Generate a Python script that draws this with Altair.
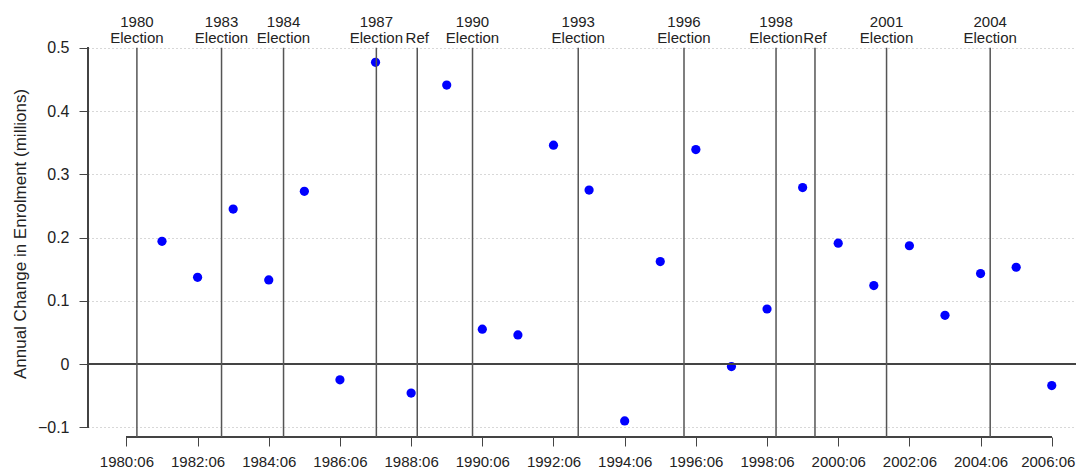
import altair as alt
import pandas as pd

# Annual change in enrolment (millions), measured at June of each year
YEARS = [1981.5, 1982.5, 1983.5, 1984.5, 1985.5, 1986.5, 1987.5, 1988.5, 1989.5,
         1990.5, 1991.5, 1992.5, 1993.5, 1994.5, 1995.5, 1996.5, 1997.5, 1998.5,
         1999.5, 2000.5, 2001.5, 2002.5, 2003.5, 2004.5, 2005.5, 2006.5]
CHANGE = [0.194, 0.137, 0.245, 0.133, 0.273, -0.025, 0.477, -0.046, 0.441,
          0.055, 0.046, 0.346, 0.275, -0.090, 0.162, 0.339, -0.004, 0.087,
          0.279, 0.191, 0.124, 0.187, 0.077, 0.143, 0.153, -0.034]

# Elections and referendums (decimal dates)
EVENT_DATES = [1980.795, 1983.173, 1984.915, 1987.523, 1988.672, 1990.225,
               1993.195, 1996.167, 1998.753, 1999.847, 2001.858, 2004.770]
EVENT_YEAR = ["1980", "1983", "1984", "1987", "", "1990",
              "1993", "1996", "1998", "", "2001", "2004"]
EVENT_KIND = ["Election", "Election", "Election", "Election", "Ref", "Election",
              "Election", "Election", "Election", "Ref", "Election", "Election"]

TICK_VALUES = [1980.5, 1982.5, 1984.5, 1986.5, 1988.5, 1990.5, 1992.5,
               1994.5, 1996.5, 1998.5, 2000.5, 2002.5, 2004.5, 2006.5]
Y_TICKS = [-0.1, 0, 0.1, 0.2, 0.3, 0.4, 0.5]

X_DOMAIN = [1979.421, 2007.181]
Y_DOMAIN = [-0.1154, 0.5123]
X_AXIS_SPAN = [1980.5, 2006.5]
Y_AXIS_SPAN = [-0.1, 0.5]

FONT = "Liberation Sans"
AXIS_COL = "#444444"
TXT_COL = "#222222"

pts = pd.DataFrame({"year": YEARS, "change": CHANGE})
ev = pd.DataFrame({"date": EVENT_DATES, "yr": EVENT_YEAR, "kind": EVENT_KIND})

x_scale = alt.Scale(domain=X_DOMAIN, nice=False, zero=False)
y_scale = alt.Scale(domain=Y_DOMAIN, nice=False, zero=False)

x_axis = alt.Axis(values=TICK_VALUES,
                  labelExpr="floor(datum.value) + ':06'",
                  labelOffset={"condition": {"test": "datum.value > 2006", "value": -4},
                               "value": 0},
                  domain=False, tickSize=9, tickColor=AXIS_COL,
                  tickWidth=1, labelFontSize=15, labelFont=FONT,
                  labelColor=TXT_COL, labelPadding=8, grid=False,
                  labelBound=False, title=None)

y_axis = alt.Axis(values=Y_TICKS, format="~g", domain=False,
                  tickSize=9, tickColor=AXIS_COL, tickWidth=1,
                  labelFontSize=16, labelFont=FONT, labelColor=TXT_COL,
                  labelPadding=10, grid=True, gridDash=[1, 3],
                  gridColor="#b0b0b0", gridWidth=1,
                  title="Annual Change in Enrolment (millions)",
                  titleFont=FONT, titleFontSize=17,
                  titleFontWeight="normal", titleColor=TXT_COL,
                  titleAngle=270, titleX=-68, titleY=193.5,
                  titleAlign="center", titleBaseline="middle")

zero_line = alt.Chart(pts).mark_rule(color=AXIS_COL, strokeWidth=1.2).encode(
    x=alt.datum(X_DOMAIN[0]),
    x2=alt.datum(X_DOMAIN[1]),
    y=alt.datum(0),
)

x_axis_line = alt.Chart(pts).mark_rule(color=AXIS_COL, strokeWidth=1.2).encode(
    x=alt.datum(X_AXIS_SPAN[0]),
    x2=alt.datum(X_AXIS_SPAN[1]),
    y=alt.datum(Y_DOMAIN[0]),
)

y_axis_line = alt.Chart(pts).mark_rule(color=AXIS_COL, strokeWidth=1.2).encode(
    x=alt.datum(X_DOMAIN[0]),
    y=alt.datum(Y_AXIS_SPAN[0]),
    y2=alt.datum(Y_AXIS_SPAN[1]),
)

event_lines = alt.Chart(ev).mark_rule(color="#555555", strokeWidth=1.5).encode(
    x=alt.X("date:Q", scale=x_scale, axis=x_axis),
    y=alt.datum(Y_AXIS_SPAN[1]),
    y2=alt.datum(Y_DOMAIN[0]),
)

points = alt.Chart(pts).mark_circle(size=85, color="#0000ff", opacity=1).encode(
    x=alt.X("year:Q", scale=x_scale, axis=x_axis),
    y=alt.Y("change:Q", scale=y_scale, axis=y_axis),
)

year_text = alt.Chart(ev).mark_text(
    font=FONT, fontSize=15, color=TXT_COL, baseline="alphabetic",
    align="center", dy=-21
).encode(
    x=alt.X("date:Q", scale=x_scale, axis=x_axis),
    y=alt.datum(Y_AXIS_SPAN[1]),
    text="yr:N",
)

kind_text = alt.Chart(ev).mark_text(
    font=FONT, fontSize=15, color=TXT_COL, baseline="alphabetic",
    align="center", dy=-5
).encode(
    x=alt.X("date:Q", scale=x_scale, axis=x_axis),
    y=alt.datum(Y_AXIS_SPAN[1]),
    text="kind:N",
)

chart = alt.layer(
    points, zero_line, x_axis_line, y_axis_line, event_lines,
    year_text, kind_text
).properties(
    width=988, height=397,
    autosize=alt.AutoSizeParams(type="none"),
    padding={"left": 80, "top": 32, "right": 0, "bottom": 31},
    background="white",
).configure_view(stroke=None)

chart.save("out.html", embed_options={"renderer": "svg", "actions": False})
